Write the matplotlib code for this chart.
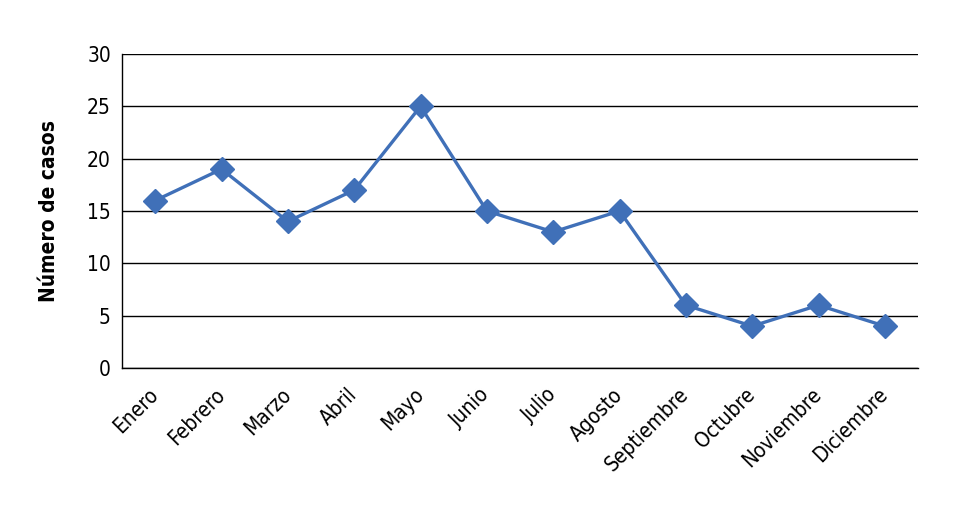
import matplotlib
matplotlib.use('Agg')
import matplotlib.pyplot as plt

# Datos
meses = ['Enero', 'Febrero', 'Marzo', 'Abril', 'Mayo', 'Junio', 'Julio',
         'Agosto', 'Septiembre', 'Octubre', 'Noviembre', 'Diciembre']
casos = [16, 19, 14, 17, 25, 15, 13, 15, 6, 4, 6, 4]
y_ticks = [0, 5, 10, 15, 20, 25, 30]

plt.rcParams['font.family'] = ['DejaVu Sans']
plt.rcParams['font.stretch'] = 'condensed'

fig = plt.figure(figsize=(9.54, 5.12), dpi=100)
ax = fig.add_axes([0.1279, 0.28125, 0.8344, 0.6133])

x = list(range(len(meses)))
ax.plot(x, casos, color='#4070B8', linewidth=2.4, marker='D', markersize=12,
        markerfacecolor='#4070B8', markeredgecolor='#4070B8', zorder=3)

ax.set_xlim(-0.5, len(meses) - 0.5)
ax.set_ylim(0, 30)
ax.set_yticks(y_ticks)
ax.set_xticks(x)
ax.set_xticklabels(meses, rotation=45, ha='right', va='center',
                   rotation_mode='anchor')
ax.tick_params(axis='both', length=0, labelsize=15, colors='black')
ax.tick_params(axis='x', pad=17)
ax.tick_params(axis='y', pad=8)

ax.grid(axis='y', color='black', linewidth=1)
ax.set_axisbelow(True)
for s in ['top', 'right']:
    ax.spines[s].set_visible(False)
for s in ['left', 'bottom']:
    ax.spines[s].set_color('black')
    ax.spines[s].set_linewidth(1)

ax.set_ylabel('Número de casos', fontsize=15, fontweight='bold', labelpad=20)

fig.savefig('out.png', dpi=100)
